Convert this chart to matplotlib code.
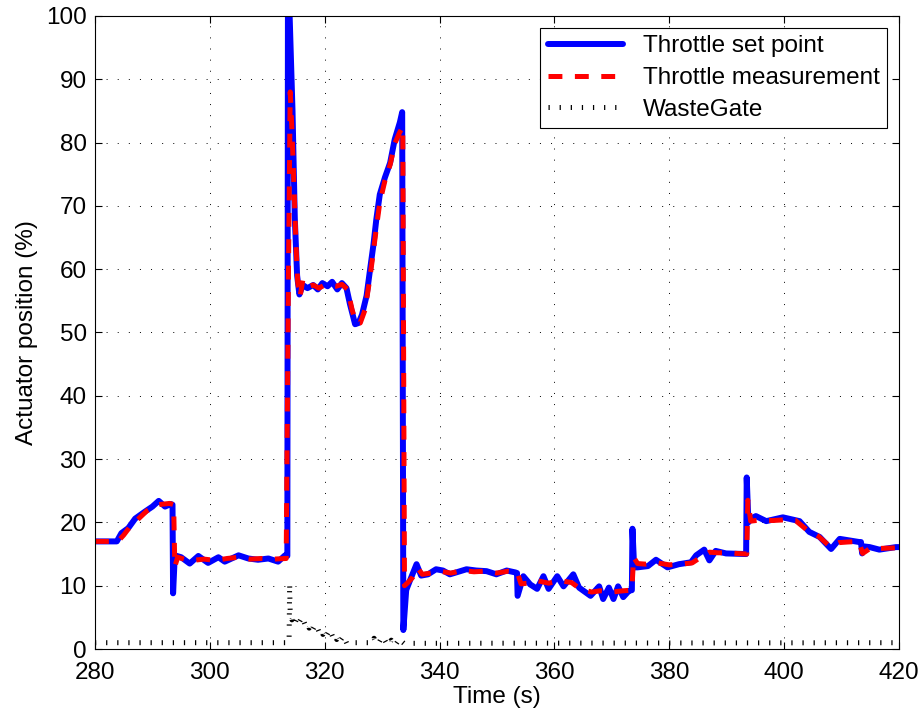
import matplotlib
matplotlib.use('Agg')
import matplotlib.pyplot as plt

plt.rcParams['font.family'] = ['Liberation Sans', 'DejaVu Sans']
plt.rcParams['font.size'] = 17.5
plt.rcParams['lines.scale_dashes'] = False

# throttle set point (time s, position %)
sp_t = [280.0, 283.8, 284.6, 285.8, 287.0, 288.7, 290.0, 291.1, 292.2, 293.2, 293.5, 293.6,
        293.9, 295.0, 296.5, 298.0, 299.7, 301.5, 302.6, 305.0, 306.7, 308.4, 310.2, 311.9,
        313.1, 313.5, 313.6, 313.9, 314.4, 314.8, 315.2, 315.6, 316.2, 317.0, 318.0, 318.8,
        319.6, 320.5, 321.3, 322.2, 323.0, 323.8, 324.4, 325.3, 325.9, 326.5, 327.3, 327.9,
        328.5, 329.0, 329.6, 330.5, 331.4, 332.2, 333.1, 333.5, 333.7, 334.2, 334.8, 336.0,
        336.8, 338.0, 339.4, 340.6, 341.8, 342.9, 344.7, 346.4, 348.2, 349.9, 351.7, 353.2,
        353.5, 353.6, 354.6, 355.8, 357.0, 358.1, 359.0, 360.5, 361.6, 363.3, 364.3, 366.3,
        367.8, 368.5, 369.5, 370.3, 371.1, 372.0, 373.0, 373.5, 373.6, 373.9, 374.5, 376.3,
        377.7, 379.7, 381.7, 383.8, 384.7, 386.1, 387.0, 388.1, 389.9, 393.4, 393.5, 393.8,
        394.2, 395.1, 396.9, 399.8, 402.7, 404.4, 406.2, 408.2, 409.7, 413.1, 413.4, 413.6,
        414.0, 414.9, 416.6, 419.5, 420.0]
sp_y = [17.0, 17.0, 18.3, 19.1, 20.6, 21.7, 22.5, 23.4, 22.5, 22.9, 22.8, 8.8,
        14.8, 14.5, 13.5, 14.7, 13.6, 14.5, 13.8, 14.8, 14.3, 14.1, 14.3, 13.8,
        14.8, 14.7, 100.0, 100.0, 85.0, 68.0, 59.0, 56.0, 57.5, 57.0, 57.5, 56.8,
        57.8, 57.3, 58.0, 56.8, 57.8, 57.0, 54.5, 51.3, 51.5, 52.8, 55.8, 59.9,
        63.9, 67.9, 71.8, 74.5, 76.8, 80.5, 83.2, 84.8, 3.0, 9.3, 10.7, 13.4,
        11.6, 11.8, 12.6, 12.4, 11.8, 12.1, 12.6, 12.4, 12.3, 11.8, 12.4, 12.1,
        12.0, 8.4, 11.5, 10.2, 9.5, 11.5, 9.5, 11.5, 9.9, 11.8, 9.7, 8.4,
        9.9, 7.9, 9.7, 7.9, 9.9, 8.2, 9.2, 9.3, 19.0, 12.9, 12.9, 13.1,
        14.1, 12.9, 13.4, 13.7, 14.8, 15.7, 14.0, 15.5, 15.1, 15.0, 27.1, 20.0,
        20.6, 21.0, 20.2, 20.8, 20.2, 18.5, 17.7, 15.8, 17.4, 16.9, 16.9, 15.1,
        16.2, 16.1, 15.7, 16.1, 16.1]

# throttle measurement
ms_t = [280.0, 284.0, 285.0, 286.0, 287.5, 289.0, 291.0, 292.0, 293.0, 293.7, 293.9, 294.4,
        295.5, 297.0, 299.0, 301.0, 303.0, 305.0, 307.0, 309.0, 311.0, 313.3, 313.7, 314.0,
        314.3, 314.7, 315.0, 315.3, 315.7, 316.2, 317.0, 318.0, 319.0, 320.0, 321.0, 322.0,
        323.0, 324.0, 324.8, 325.5, 326.2, 327.0, 327.7, 328.3, 329.0, 329.6, 330.5, 331.4,
        332.2, 333.0, 333.6, 333.9, 334.5, 335.3, 336.2, 337.0, 338.5, 340.0, 342.0, 344.0,
        346.0, 348.0, 350.0, 352.0, 353.5, 354.2, 355.5, 357.0, 359.0, 361.0, 363.0, 364.5,
        366.5, 368.0, 370.0, 372.0, 373.5, 373.8, 374.5, 376.0, 378.0, 380.0, 382.0, 384.0,
        385.5, 387.0, 388.5, 390.0, 393.5, 393.7, 394.2, 396.0, 398.0, 400.0, 402.0, 404.0,
        406.0, 408.0, 409.5, 411.0, 413.0, 413.7, 415.0, 417.0, 420.0]
ms_y = [17.0, 17.0, 18.0, 19.2, 20.5, 21.8, 22.8, 22.9, 23.0, 22.8, 13.0, 14.5,
        14.2, 14.0, 14.2, 14.0, 14.3, 14.5, 14.2, 14.3, 14.2, 14.3, 60.0, 88.0,
        82.0, 72.0, 64.0, 58.0, 55.6, 58.3, 57.2, 57.5, 57.0, 57.5, 57.4, 57.3,
        57.6, 56.8, 53.5, 51.5, 51.5, 53.5, 57.5, 61.5, 66.5, 70.5, 74.0, 76.5,
        79.8, 81.5, 82.5, 10.0, 10.5, 11.3, 12.8, 11.8, 12.0, 12.3, 12.0, 12.4,
        12.2, 12.3, 12.0, 12.3, 12.2, 10.3, 10.4, 10.8, 10.4, 10.8, 10.5, 9.5,
        9.0, 9.2, 9.0, 9.2, 9.3, 14.5, 13.5, 13.4, 13.6, 13.3, 13.4, 13.6,
        14.5, 15.3, 15.2, 15.2, 15.0, 23.5, 20.2, 20.4, 20.3, 20.4, 20.3, 18.8,
        17.8, 16.2, 16.8, 16.9, 17.0, 15.1, 15.9, 15.9, 16.0]

# wastegate (noisy while it is open)
wg_t = [280.0, 313.8, 313.9,
        314.0, 314.3, 314.6, 314.9, 315.2, 315.5, 315.8, 316.1, 316.4, 316.7,
        317.0, 317.3, 317.6, 317.9, 318.2, 318.5, 318.8, 319.1, 319.4, 319.7,
        320.0, 320.3, 320.6, 320.9, 321.2, 321.5, 321.8, 322.1, 322.4, 322.7,
        323.0, 323.3, 323.6, 323.9, 324.2,
        328.5, 328.6, 328.9, 329.2, 329.5, 329.8, 330.1, 330.4, 330.7, 331.0,
        331.3, 331.6, 331.9, 332.2, 332.5, 332.8, 333.1, 333.4, 333.8, 420.0]
wg_y = [1.0, 1.0, 10.3,
        5.5, 4.6, 5.2, 4.3, 4.9, 4.1, 4.6, 3.8, 4.3, 3.6,
        4.0, 3.3, 3.8, 3.0, 3.5, 2.8, 3.2, 2.5, 3.0, 2.3,
        2.8, 2.1, 2.6, 1.9, 2.4, 1.7, 2.2, 1.5, 2.0, 1.3,
        1.7, 1.0, 1.4, 0.8, 1.0,
        1.0, 1.7, 1.2, 1.6, 1.1, 1.6, 1.1, 1.5, 1.0, 1.5,
        1.0, 1.4, 0.9, 1.3, 0.9, 1.3, 0.8, 1.2, 0.9, 1.0]

fig = plt.figure(figsize=(9.24, 7.17), dpi=100)
ax = fig.add_axes([0.1028, 0.0948, 0.870, 0.883])

ax.plot(sp_t, sp_y, color='#0000ff', lw=4.3, solid_joinstyle='round',
        solid_capstyle='round', label='Throttle set point')
ax.plot(ms_t, ms_y, color='#ff0000', lw=3.6, linestyle=(0, (10, 9)),
        dash_capstyle='butt', dash_joinstyle='round', label='Throttle measurement')
ax.plot(wg_t, wg_y, color='k', lw=3.6, linestyle=(0, (0.9, 7.1)),
        dash_capstyle='butt', label='WasteGate')

ax.set_xlim(280, 420)
ax.set_ylim(0, 100)
ax.set_xticks(range(280, 421, 20))
ax.set_yticks(range(0, 101, 10))
ax.grid(True, color='k', linestyle=(0, (0.7, 7.3)), linewidth=0.7)
ax.tick_params(direction='in', top=True, right=True, length=5, width=0.8, pad=6)
ax.tick_params(axis='x', pad=9)
for s in ax.spines.values():
    s.set_linewidth(0.8)

ax.set_xlabel('Time (s)', labelpad=2)
ax.set_ylabel('Actuator position (%)', labelpad=6)

leg = ax.legend(loc='upper right', fancybox=False, edgecolor='k', framealpha=1,
                handlelength=3.1, labelspacing=0.4, borderaxespad=0.5,
                handletextpad=0.8, borderpad=0.3)
leg.get_frame().set_linewidth(0.8)

fig.savefig('out.png', dpi=100)
